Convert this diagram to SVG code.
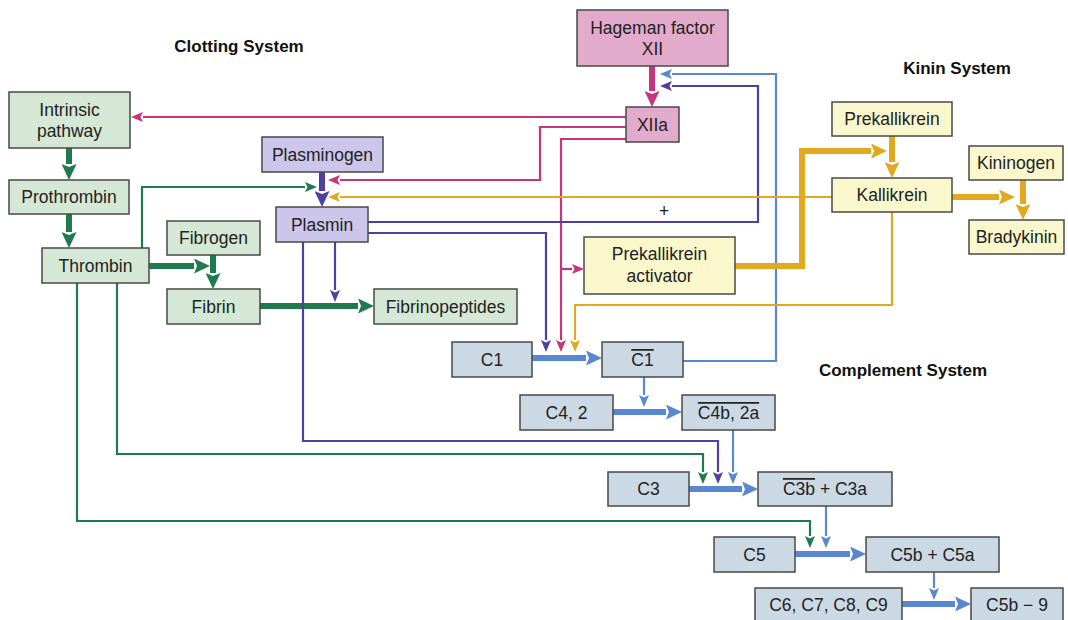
<svg xmlns="http://www.w3.org/2000/svg" width="1068" height="620" viewBox="0 0 1068 620">
  <style>
    .box { stroke: #484848; stroke-width: 1.5; }
    .clot { fill: #d4e8d5; }
    .hag { fill: #e2abcb; }
    .plas { fill: #cbc6ea; }
    .kin { fill: #fbf7cd; }
    .comp { fill: #cbd9e5; }
    .lbl { font-family: "Liberation Sans", Arial, sans-serif; font-size: 17.5px; fill: #222; text-anchor: middle; }
    .title { font-family: "Liberation Sans", Arial, sans-serif; font-size: 17px; font-weight: bold; fill: #111; text-anchor: middle; }
    .ln { fill: none; stroke-width: 2.2; stroke-linejoin: miter; }
    .thk { fill: none; stroke-width: 6; stroke-linejoin: miter; }
    .g { stroke: #1f7a50; }
    .m { stroke: #c9357c; }
    .p { stroke: #4f3f9f; }
    .y { stroke: #e2a920; }
    .b { stroke: #5a87d2; }
    .ov { text-decoration: overline; }
  </style>
  <defs>
    <!-- thin arrowheads: 12 long, 10 wide, base at the path end -->
    <marker id="aG" markerUnits="userSpaceOnUse" markerWidth="12" markerHeight="10" refX="0" refY="5" orient="auto"><path d="M0,0 L12,5 L0,10 L2.5,5 z" fill="#1f7a50"/></marker>
    <marker id="aM" markerUnits="userSpaceOnUse" markerWidth="12" markerHeight="10" refX="0" refY="5" orient="auto"><path d="M0,0 L12,5 L0,10 L2.5,5 z" fill="#c9357c"/></marker>
    <marker id="aP" markerUnits="userSpaceOnUse" markerWidth="12" markerHeight="10" refX="0" refY="5" orient="auto"><path d="M0,0 L12,5 L0,10 L2.5,5 z" fill="#4f3f9f"/></marker>
    <marker id="aY" markerUnits="userSpaceOnUse" markerWidth="12" markerHeight="10" refX="0" refY="5" orient="auto"><path d="M0,0 L12,5 L0,10 L2.5,5 z" fill="#e2a920"/></marker>
    <marker id="aB" markerUnits="userSpaceOnUse" markerWidth="12" markerHeight="10" refX="0" refY="5" orient="auto"><path d="M0,0 L12,5 L0,10 L2.5,5 z" fill="#5a87d2"/></marker>
    <!-- thick arrowheads: 16 long, 15 wide -->
    <marker id="tG" markerUnits="userSpaceOnUse" markerWidth="16" markerHeight="15" refX="0" refY="7.5" orient="auto"><path d="M0,0 L16,7.5 L0,15 L3,7.5 z" fill="#1f7a50"/></marker>
    <marker id="tM" markerUnits="userSpaceOnUse" markerWidth="16" markerHeight="15" refX="0" refY="7.5" orient="auto"><path d="M0,0 L16,7.5 L0,15 L3,7.5 z" fill="#c9357c"/></marker>
    <marker id="tP" markerUnits="userSpaceOnUse" markerWidth="16" markerHeight="15" refX="0" refY="7.5" orient="auto"><path d="M0,0 L16,7.5 L0,15 L3,7.5 z" fill="#4f3f9f"/></marker>
    <marker id="tY" markerUnits="userSpaceOnUse" markerWidth="16" markerHeight="15" refX="0" refY="7.5" orient="auto"><path d="M0,0 L16,7.5 L0,15 L3,7.5 z" fill="#e2a920"/></marker>
    <marker id="tB" markerUnits="userSpaceOnUse" markerWidth="16" markerHeight="15" refX="0" refY="7.5" orient="auto"><path d="M0,0 L16,7.5 L0,15 L3,7.5 z" fill="#5a87d2"/></marker>
  </defs>

  <rect width="1068" height="620" fill="#ffffff"/>

  <!-- section titles -->
  <g id="titles">
    <text class="title" x="239" y="52">Clotting System</text>
    <text class="title" x="957" y="74">Kinin System</text>
    <text class="title" x="903" y="376">Complement System</text>
  </g>

  <g id="connectors">
    <!-- Hageman factor / XIIa -->
    <path class="thk m" d="M652,66 V91" marker-end="url(#tM)"/>
    <path class="ln m" d="M626,117 H143" marker-end="url(#aM)"/>
    <path class="ln m" d="M626,127 H540 V180 H340" marker-end="url(#aM)"/>
    <path class="ln m" d="M626,139 H561 V340" marker-end="url(#aM)"/>
    <path class="ln m" d="M561,269 H572" marker-end="url(#aM)"/>

    <!-- feedback to Hageman factor -->
    <path class="ln b" d="M683,361 H776 V74 H672" marker-end="url(#aB)"/>
    <path class="ln p" d="M368,222 H758 V86 H672" marker-end="url(#aP)"/>

    <!-- clotting cascade -->
    <path class="thk g" d="M69,148 V164" marker-end="url(#tG)"/>
    <path class="thk g" d="M69,214 V232" marker-end="url(#tG)"/>
    <path class="thk g" d="M149,266 H194" marker-end="url(#tG)"/>
    <path class="thk g" d="M213,255 V273" marker-end="url(#tG)"/>
    <path class="thk g" d="M260,306 H358" marker-end="url(#tG)"/>
    <path class="ln g" d="M142,248 V187 H305" marker-end="url(#aG)"/>
    <path class="ln g" d="M117,283 V454 H703 V472" marker-end="url(#aG)"/>
    <path class="ln g" d="M77,283 V521 H810 V536" marker-end="url(#aG)"/>

    <!-- fibrinolytic branch -->
    <path class="thk p" d="M322,172 V191" marker-end="url(#tP)"/>
    <path class="ln p" d="M335,242 V290" marker-end="url(#aP)"/>
    <path class="ln p" d="M368,233 H546 V340" marker-end="url(#aP)"/>
    <path class="ln p" d="M303,242 V441 H718 V472" marker-end="url(#aP)"/>

    <!-- kinin branch -->
    <path class="thk y" d="M735,266 H802 V151 H871" marker-end="url(#tY)"/>
    <path class="thk y" d="M892,136 V162" marker-end="url(#tY)"/>
    <path class="thk y" d="M952,197 H999" marker-end="url(#tY)"/>
    <path class="thk y" d="M1023,180 V204" marker-end="url(#tY)"/>
    <path class="ln y" d="M832,197 H340" marker-end="url(#aY)"/>
    <path class="ln y" d="M892,212 V305 H575 V340" marker-end="url(#aY)"/>

    <!-- complement cascade -->
    <path class="thk b" d="M532,358 H586" marker-end="url(#tB)"/>
    <path class="ln b" d="M644,377 V395" marker-end="url(#aB)"/>
    <path class="thk b" d="M613,412 H666" marker-end="url(#tB)"/>
    <path class="ln b" d="M733,430 V472" marker-end="url(#aB)"/>
    <path class="thk b" d="M689,489 H742" marker-end="url(#tB)"/>
    <path class="ln b" d="M826,506 V536" marker-end="url(#aB)"/>
    <path class="thk b" d="M795,554 H850" marker-end="url(#tB)"/>
    <path class="ln b" d="M934,572 V588" marker-end="url(#aB)"/>
    <path class="thk b" d="M902,604 H955" marker-end="url(#tB)"/>

    <text class="lbl" x="664" y="217">+</text>
  </g>

  <!-- clotting system -->
  <g id="intrinsic"><rect class="box clot" x="9" y="92" width="121" height="56"/><text class="lbl" x="69.5" y="116">Intrinsic</text><text class="lbl" x="69.5" y="137">pathway</text></g>
  <g id="prothrombin"><rect class="box clot" x="9" y="180" width="120" height="34"/><text class="lbl" x="69" y="203">Prothrombin</text></g>
  <g id="thrombin"><rect class="box clot" x="42" y="248" width="107" height="35"/><text class="lbl" x="95.5" y="272">Thrombin</text></g>
  <g id="fibrogen"><rect class="box clot" x="167" y="221" width="93" height="34"/><text class="lbl" x="213.5" y="244">Fibrogen</text></g>
  <g id="fibrin"><rect class="box clot" x="167" y="289" width="93" height="35"/><text class="lbl" x="213.5" y="313">Fibrin</text></g>
  <g id="fibrinopeptides"><rect class="box clot" x="374" y="289" width="143" height="35"/><text class="lbl" x="445.5" y="313">Fibrinopeptides</text></g>

  <!-- Hageman factor -->
  <g id="hageman"><rect class="box hag" x="577" y="10" width="151" height="56"/><text class="lbl" x="652.5" y="34">Hageman factor</text><text class="lbl" x="652.5" y="55">XII</text></g>
  <g id="xiia"><rect class="box hag" x="626" y="107" width="53" height="35"/><text class="lbl" x="652.5" y="131">XIIa</text></g>

  <!-- fibrinolytic system -->
  <g id="plasminogen"><rect class="box plas" x="262" y="137" width="121" height="35"/><text class="lbl" x="322.5" y="161">Plasminogen</text></g>
  <g id="plasmin"><rect class="box plas" x="276" y="207" width="92" height="35"/><text class="lbl" x="322" y="231">Plasmin</text></g>

  <!-- kinin system -->
  <g id="prekallikrein-activator"><rect class="box kin" x="584" y="237" width="151" height="57"/><text class="lbl" x="659.5" y="260">Prekallikrein</text><text class="lbl" x="659.5" y="282">activator</text></g>
  <g id="prekallikrein"><rect class="box kin" x="832" y="102" width="120" height="34"/><text class="lbl" x="892" y="125">Prekallikrein</text></g>
  <g id="kallikrein"><rect class="box kin" x="832" y="178" width="120" height="34"/><text class="lbl" x="892" y="201">Kallikrein</text></g>
  <g id="kininogen"><rect class="box kin" x="969" y="146" width="94" height="34"/><text class="lbl" x="1016" y="169">Kininogen</text></g>
  <g id="bradykinin"><rect class="box kin" x="969" y="220" width="95" height="34"/><text class="lbl" x="1016.5" y="243">Bradykinin</text></g>

  <!-- complement system -->
  <g id="c1"><rect class="box comp" x="452" y="342" width="80" height="35"/><text class="lbl" x="492" y="366">C1</text></g>
  <g id="c1-active"><rect class="box comp" x="602" y="342" width="81" height="35"/><text class="lbl" x="642.5" y="366"><tspan class="ov">C1</tspan></text></g>
  <g id="c4-2"><rect class="box comp" x="520" y="395" width="93" height="35"/><text class="lbl" x="566.5" y="419">C4, 2</text></g>
  <g id="c4b-2a"><rect class="box comp" x="682" y="395" width="93" height="35"/><text class="lbl" x="728.5" y="419"><tspan class="ov">C4b, 2a</tspan></text></g>
  <g id="c3"><rect class="box comp" x="608" y="472" width="81" height="34"/><text class="lbl" x="648.5" y="495">C3</text></g>
  <g id="c3b-c3a"><rect class="box comp" x="758" y="472" width="134" height="34"/><text class="lbl" x="825" y="495"><tspan class="ov">C3b</tspan> + C3a</text></g>
  <g id="c5"><rect class="box comp" x="714" y="537" width="81" height="35"/><text class="lbl" x="754.5" y="561">C5</text></g>
  <g id="c5b-c5a"><rect class="box comp" x="866" y="537" width="133" height="35"/><text class="lbl" x="932.5" y="561">C5b + C5a</text></g>
  <g id="c6-c9"><rect class="box comp" x="755" y="588" width="147" height="33"/><text class="lbl" x="828.5" y="611">C6, C7, C8, C9</text></g>
  <g id="c5b-9"><rect class="box comp" x="971" y="588" width="92" height="33"/><text class="lbl" x="1017" y="611">C5b − 9</text></g>
</svg>
